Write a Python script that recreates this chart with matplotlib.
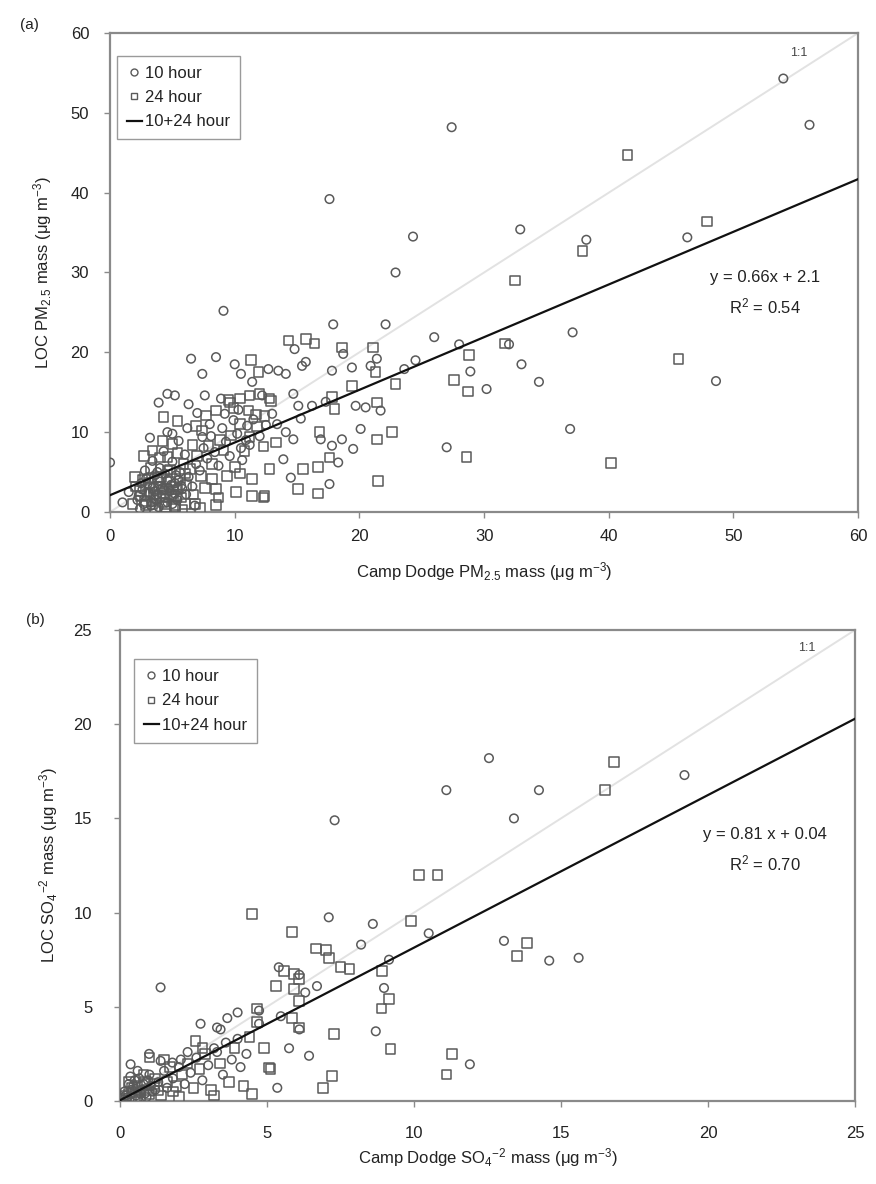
import matplotlib
matplotlib.use("Agg")
import matplotlib.pyplot as plt
from matplotlib.lines import Line2D

plt.rcParams['font.family'] = ['Liberation Sans', 'DejaVu Sans']
plt.rcParams['mathtext.fontset'] = 'custom'
plt.rcParams['mathtext.rm'] = 'Liberation Sans'
plt.rcParams['mathtext.it'] = 'Liberation Sans:italic'

# ---------------- Panel (a) data: PM2.5 ----------------
a_c10_x = [54.0, 56.1, 27.4, 17.6, 24.3, 22.9, 32.9, 38.2, 46.3, 9.1, 17.9, 22.1, 26.0, 28.0, 28.9,
           30.2, 32.0, 33.0, 34.4, 37.1, 36.9, 27.0, 48.6,
           14.8, 18.7, 21.4, 20.9, 24.5, 23.6, 19.4, 17.8, 15.7, 15.4, 12.7, 13.5, 14.1, 17.3, 19.7, 20.5,
           21.7, 14.7, 15.1, 12.2, 16.2, 15.3, 14.1, 14.7, 16.9, 18.6, 17.8, 20.1, 19.5, 18.3, 14.5, 13.9, 17.6,
           11.4, 10.5, 10.0, 8.5, 6.5, 7.4, 6.3, 3.9, 4.6, 5.2, 0.0, 4.6, 7.4, 10.9, 11.2, 10.5,
           2.2, 2.6, 3.0, 3.3, 3.6, 3.8, 4.0, 4.2, 4.4, 4.6, 4.8, 5.0, 5.2, 5.4, 5.6, 5.8, 6.0, 6.3, 6.6,
           6.9, 7.2, 7.5, 7.8, 8.1, 8.4, 8.7, 9.0, 9.3, 9.6, 9.9, 10.2, 10.6, 11.0, 11.5, 12.0, 12.5, 13.0,
           13.4, 1.5, 1.0, 2.8, 3.4, 4.3, 5.5, 6.2, 7.0, 8.0, 9.2, 6.8, 3.9, 2.4, 5.0, 3.2, 10.3, 8.9, 7.6,
           2.3, 2.7, 3.1, 3.4, 3.7, 4.0, 4.3, 4.6, 4.9, 5.2, 5.5, 2.9, 3.3, 3.8, 4.4, 5.0, 5.7, 6.1, 2.5,
           3.6, 4.7, 5.3]
a_c10_y = [54.3, 48.5, 48.2, 39.2, 34.5, 30.0, 35.4, 34.1, 34.4, 25.2, 23.5, 23.5, 21.9, 21.0, 17.6,
           15.4, 21.0, 18.5, 16.3, 22.5, 10.4, 8.1, 16.4,
           20.4, 19.8, 19.2, 18.3, 19.0, 17.9, 18.1, 17.7, 18.8, 18.3, 17.9, 17.7, 17.3, 13.8, 13.3, 13.1,
           12.7, 14.8, 13.3, 14.6, 13.3, 11.7, 10.0, 9.1, 9.1, 9.1, 8.3, 10.4, 7.9, 6.2, 4.3, 6.6, 3.5,
           16.3, 17.3, 18.5, 19.4, 19.2, 17.3, 13.5, 13.7, 14.8, 14.6, 6.2, 10.0, 9.4, 9.0, 8.4, 8.0,
           1.5, 2.8, 3.5, 1.2, 4.6, 2.2, 5.5, 3.0, 1.8, 4.0, 2.6, 6.3, 3.6, 1.5, 5.0, 2.9, 7.2, 4.4, 3.2,
           6.0, 5.2, 8.0, 6.7, 9.5, 7.5, 5.8, 10.5, 8.8, 7.0, 11.5, 9.8, 6.5, 10.8, 11.6, 9.5, 10.9, 12.3,
           11.0, 2.5, 1.2, 5.2, 6.4, 7.6, 8.9, 10.5, 12.4, 11.0, 12.3, 0.8, 0.6, 0.4, 9.8, 9.3, 12.8, 14.2, 14.6,
           2.0, 1.0, 2.4, 3.0, 1.5, 3.8, 2.7, 1.2, 3.4, 2.3, 4.0, 4.2, 0.8, 5.0, 4.8, 1.0, 3.3, 2.2, 3.6,
           2.6, 3.0, 4.6]

a_s24_x = [41.5, 37.9, 47.9, 32.5, 45.6, 28.8, 27.6, 28.7, 28.6, 40.2, 31.7,
           14.3, 15.7, 16.4, 18.6, 21.1, 21.3, 22.9, 17.8, 18.0, 21.4, 12.9, 13.3, 16.8, 22.6, 21.4, 17.6,
           16.7, 15.5, 12.8, 15.1, 16.7, 21.5, 12.4, 19.4,
           11.3, 11.9, 4.3, 5.4, 2.0, 4.2, 5.0, 3.4, 4.6, 6.9, 7.7, 8.5, 9.6, 10.4, 11.2, 12.0, 12.8, 9.9,
           11.1, 11.7, 12.4, 10.4, 11.4, 11.4, 12.3, 10.1, 8.2, 8.5, 8.7, 6.8, 6.0, 5.2, 4.4,
           2.1, 2.5, 2.9, 3.1, 3.5, 3.7, 4.1, 4.3, 4.5, 4.8, 5.1, 5.3, 5.6, 5.9, 6.1, 6.4, 6.7, 7.0, 7.3,
           7.6, 7.9, 8.2, 8.5, 8.8, 9.1, 9.4, 9.7, 10.0, 10.4, 10.8, 11.2, 11.8, 12.3, 1.8, 3.3, 4.0, 5.4,
           6.6, 7.4, 9.5, 3.6, 5.8, 7.2, 2.7,
           2.4, 2.8, 3.2, 3.5, 3.9, 4.2, 4.5, 4.8, 5.1, 5.4, 5.7, 6.0, 3.0, 3.8, 4.6, 5.2, 2.6, 4.0, 4.9, 3.4]
a_s24_y = [44.7, 32.7, 36.4, 29.0, 19.2, 19.7, 16.5, 15.1, 6.9, 6.1, 21.1,
           21.5, 21.7, 21.1, 20.6, 20.6, 17.5, 16.0, 14.4, 12.9, 13.7, 13.9, 8.7, 10.0, 10.0, 9.1, 6.8,
           5.6, 5.4, 5.4, 2.9, 2.3, 3.9, 2.0, 15.8,
           19.0, 17.5, 11.9, 11.4, 4.4, 8.9, 8.5, 7.7, 6.9, 10.8, 12.1, 12.7, 13.7, 14.2, 14.6, 14.8, 14.2, 13.0,
           12.7, 12.2, 12.0, 4.8, 4.1, 2.0, 1.8, 2.5, 4.1, 2.9, 1.8, 1.0, 1.0, 0.8, 1.0,
           3.2, 2.0, 0.9, 4.2, 3.0, 1.7, 4.4, 2.4, 0.6, 5.3, 3.1, 2.0, 4.2, 6.0, 3.4, 5.4, 2.2, 7.0, 4.5,
           3.0, 8.3, 6.0, 0.9, 9.0, 7.7, 4.5, 9.6, 5.6, 11.0, 7.6, 9.4, 10.7, 8.2, 1.0, 5.5, 6.8, 7.4,
           8.4, 10.2, 14.0, 0.3, 0.3, 0.5, 7.0,
           2.6, 1.4, 3.6, 2.1, 3.2, 1.2, 2.9, 3.8, 1.6, 2.8, 1.8, 4.8, 2.3, 4.3, 5.2, 0.6, 4.0, 2.0, 2.2, 1.0]

a_slope, a_icpt = 0.66, 2.1
a_fit_x = [0, 60]

# ---------------- Panel (b) data: SO4 ----------------
b_c10_x = [12.55, 19.2, 14.25, 11.1, 13.4, 7.3, 13.06, 14.6, 15.6, 11.9, 7.1, 8.6, 10.5, 8.2, 9.15,
           8.98, 8.7, 6.43, 5.75, 5.35, 1.38, 5.47, 4.73, 4.73, 4.0, 3.65, 2.74, 3.3, 3.42, 0.99, 0.36,
           2.07, 1.78, 1.38, 3.2, 6.3, 6.1, 5.4, 6.1, 6.7,
           0.2, 0.4, 0.5, 0.7, 0.8, 1.0, 1.1, 1.3, 1.5, 1.6, 1.8, 2.0, 2.2, 2.4, 2.6, 2.8, 3.0, 3.3, 3.5,
           3.8, 4.1, 4.3, 0.3, 0.9, 2.3, 3.6, 4.0, 0.6,
           0.15, 0.25, 0.45, 0.55, 0.65, 0.75, 0.85, 1.05, 1.2, 0.35, 0.6, 0.95]
b_c10_y = [18.2, 17.3, 16.5, 16.5, 15.0, 14.9, 8.5, 7.45, 7.6, 1.95, 9.75, 9.4, 8.9, 8.3, 7.5,
           6.0, 3.7, 2.4, 2.8, 0.7, 6.03, 4.5, 4.8, 4.1, 4.7, 4.4, 4.1, 3.9, 3.8, 2.5, 1.95,
           2.2, 2.04, 2.13, 2.8, 5.76, 3.8, 7.1, 6.7, 6.1,
           0.3, 0.6, 1.1, 0.4, 0.9, 1.4, 0.5, 1.0, 1.6, 0.7, 1.2, 1.8, 0.9, 1.5, 2.3, 1.1, 1.9, 2.6, 1.4,
           2.2, 1.8, 2.5, 0.9, 0.2, 2.6, 3.1, 3.3, 1.6,
           0.5, 0.2, 0.8, 0.3, 1.2, 0.6, 0.4, 0.8, 0.6, 1.3, 0.1, 1.1]

b_s24_x = [16.8, 16.5, 10.17, 10.8, 13.85, 13.5, 11.3, 11.1, 4.5, 9.9, 5.86, 6.66, 7.0, 7.1, 7.5,
           7.8, 8.92, 9.15, 8.9, 9.2, 7.28, 7.22, 6.9, 5.58, 5.92, 6.09, 5.3, 5.92, 6.09, 5.86, 6.09,
           5.12, 4.9, 4.5, 4.67, 4.67, 2.57, 2.8, 5.07,
           0.1, 0.3, 0.5, 0.6, 0.9, 1.2, 1.4, 1.7, 1.9, 2.1, 2.3, 2.5, 2.7, 2.9, 3.1, 3.4, 3.7, 3.9,
           4.2, 4.4, 0.8, 1.5, 3.2, 2.0, 1.0,
           0.2, 0.4, 0.55, 0.7, 0.85, 1.0, 1.15, 1.3, 0.3, 0.65, 1.6, 1.8]
b_s24_y = [18.0, 16.5, 12.0, 12.0, 8.4, 7.7, 2.5, 1.4, 9.93, 9.57, 8.96, 8.1, 8.0, 7.6, 7.1,
           7.0, 6.9, 5.4, 4.9, 2.75, 3.55, 1.33, 0.7, 6.9, 6.74, 6.47, 6.1, 5.94, 5.3, 4.4, 3.9,
           1.7, 2.8, 0.36, 4.9, 4.2, 3.2, 2.8, 1.77,
           0.1, 0.4, 0.2, 0.8, 0.6, 1.2, 0.3, 1.8, 0.8, 1.4, 2.0, 0.7, 1.7, 2.5, 0.6, 2.0, 1.0, 2.8,
           0.8, 3.4, 1.4, 2.2, 0.3, 0.2, 2.3,
           0.25, 0.7, 0.45, 0.15, 1.0, 0.35, 0.9, 0.55, 1.0, 0.55, 1.0, 0.5]

b_slope, b_icpt = 0.81, 0.04
b_fit_x = [0, 25]

# ---------------- Figure ----------------
fig = plt.figure(figsize=(8.76, 11.84), dpi=100)
ax_a = fig.add_axes([0.1256, 0.5676, 0.854, 0.4045])
ax_b = fig.add_axes([0.137, 0.0701, 0.839, 0.3978])

PT_COL = '#5a5a5a'
SPINE_COL = '#8a8a8a'
TXT_COL = '#222222'


def style_axes(ax, lim, step, xpad, ypad):
    ax.set_xlim(0, lim)
    ax.set_ylim(0, lim)
    ax.set_xticks(range(0, lim + 1, step))
    ax.set_yticks(range(0, lim + 1, step))
    for s in ax.spines.values():
        s.set_color(SPINE_COL)
        s.set_linewidth(1.6)
    ax.tick_params(direction='out', length=4, width=1, color=SPINE_COL,
                   labelsize=12, labelcolor=TXT_COL)
    ax.tick_params(axis='x', pad=xpad)
    ax.tick_params(axis='y', pad=ypad)


def draw(ax, c10x, c10y, s24x, s24y, fitx, slope, icpt, lim):
    ax.plot([0, lim], [0, lim], color='#e2e2e2', lw=1.4, zorder=1)
    ax.scatter(c10x, c10y, s=38, marker='o', facecolors='none', edgecolors=PT_COL,
               linewidths=1.1, zorder=3)
    ax.scatter(s24x, s24y, s=48, marker='s', facecolors='none', edgecolors=PT_COL,
               linewidths=1.1, zorder=3)
    fity = [slope * x + icpt for x in fitx]
    ax.plot(fitx, fity, color='#111111', lw=1.6, zorder=4)


def legend(ax, anchor):
    handles = [
        Line2D([], [], marker='o', ms=5, mfc='none', mec=PT_COL, ls='none', mew=1),
        Line2D([], [], marker='s', ms=5, mfc='none', mec=PT_COL, ls='none', mew=1),
        Line2D([], [], color='#111111', lw=1.6),
    ]
    leg = ax.legend(handles, ['10 hour', '24 hour', '10+24 hour'], loc='upper left',
                    bbox_to_anchor=anchor, borderaxespad=0, fontsize=12,
                    handlelength=0.9, handletextpad=0.2, labelspacing=0.55,
                    fancybox=False, framealpha=1, borderpad=0.6)
    leg.get_frame().set_edgecolor('#9a9a9a')
    leg.get_frame().set_linewidth(1.0)
    for t in leg.get_texts():
        t.set_color(TXT_COL)


# Panel (a)
draw(ax_a, a_c10_x, a_c10_y, a_s24_x, a_s24_y, a_fit_x, a_slope, a_icpt, 60)
style_axes(ax_a, 60, 10, 8, 11)
legend(ax_a, (0.009, 0.952))
ax_a.text(0.92, 0.97, '1:1', transform=ax_a.transAxes, fontsize=9, color='#444444',
          ha='center', va='top')
ax_a.text(0.876, 0.49, 'y = 0.66x + 2.1', transform=ax_a.transAxes, fontsize=12,
          color=TXT_COL, ha='center', va='center')
ax_a.text(0.876, 0.43, 'R$^2$ = 0.54', transform=ax_a.transAxes, fontsize=12,
          color=TXT_COL, ha='center', va='center')
ax_a.set_xlabel('Camp Dodge PM$_{2.5}$ mass (μg m$^{-3}$)', fontsize=12, color=TXT_COL, labelpad=12)
ax_a.set_ylabel('LOC PM$_{2.5}$ mass (μg m$^{-3}$)', fontsize=12, color=TXT_COL, labelpad=12)
fig.text(29 / 876, 1 - 25 / 1184, '(a)', fontsize=11, color=TXT_COL, ha='center', va='center')

# Panel (b)
draw(ax_b, b_c10_x, b_c10_y, b_s24_x, b_s24_y, b_fit_x, b_slope, b_icpt, 25)
style_axes(ax_b, 25, 5, 14, 16)
legend(ax_b, (0.019, 0.938))
ax_b.text(0.935, 0.975, '1:1', transform=ax_b.transAxes, fontsize=9, color='#444444',
          ha='center', va='top')
ax_b.text(0.878, 0.565, 'y = 0.81 x + 0.04', transform=ax_b.transAxes, fontsize=12,
          color=TXT_COL, ha='center', va='center')
ax_b.text(0.878, 0.505, 'R$^2$ = 0.70', transform=ax_b.transAxes, fontsize=12,
          color=TXT_COL, ha='center', va='center')
ax_b.set_xlabel('Camp Dodge SO$_4$$^{-2}$ mass (μg m$^{-3}$)', fontsize=12, color=TXT_COL, labelpad=4)
ax_b.set_ylabel('LOC SO$_4$$^{-2}$ mass (μg m$^{-3}$)', fontsize=12, color=TXT_COL, labelpad=10)
fig.text(35 / 876, 1 - 620 / 1184, '(b)', fontsize=11, color=TXT_COL, ha='center', va='center')

fig.savefig('out.png', dpi=100)
